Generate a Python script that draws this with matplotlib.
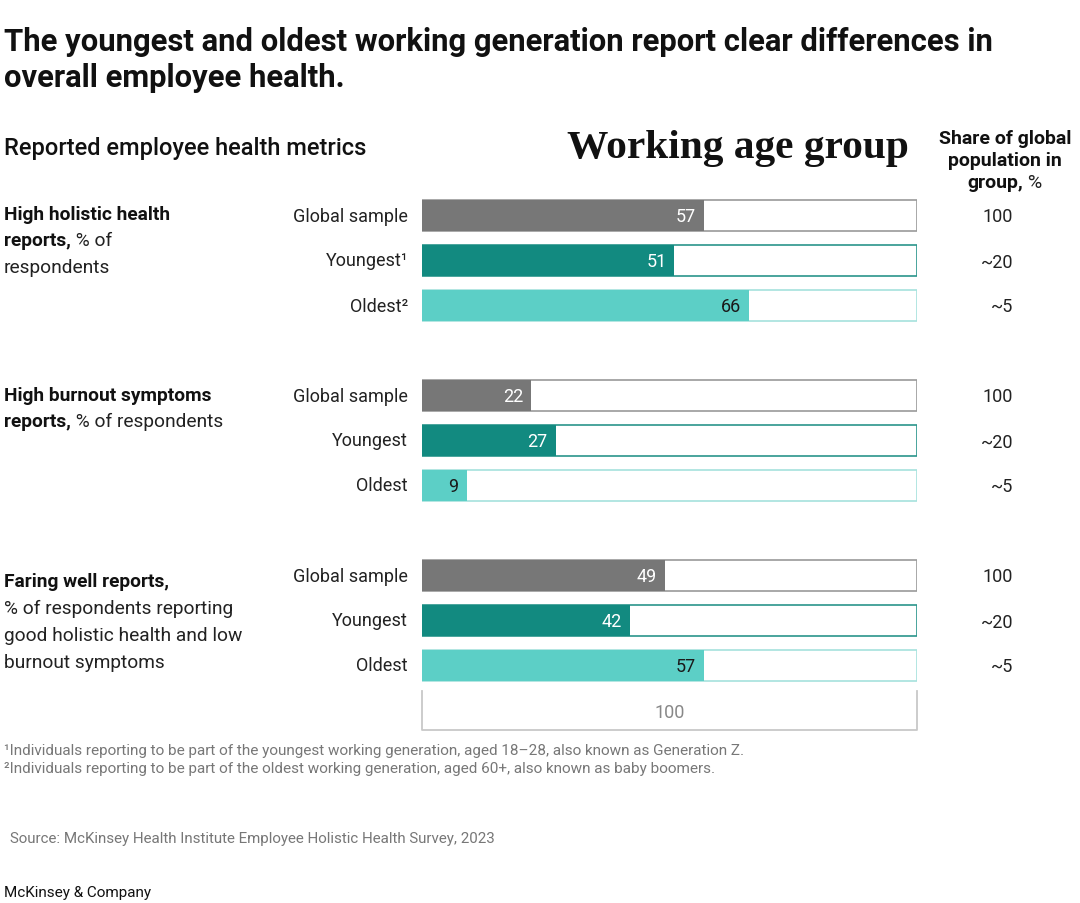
import matplotlib.pyplot as plt

plt.rcParams['font.family'] = ['Roboto', 'DejaVu Sans']

# data
metrics = ['High holistic health', 'High burnout symptoms', 'Faring well']
groups = ['Global sample', 'Youngest\u00b9', 'Oldest\u00b2']
holistic = [57, 51, 66]
burnout = [22, 27, 9]
faring = [49, 42, 57]
share_labels = ['100', '~20', '~5']

group_names = [groups, ['Global sample', 'Youngest', 'Oldest'], ['Global sample', 'Youngest', 'Oldest']]
values = [holistic, burnout, faring]

fill_cols = ['#777777', '#128a80', '#5ccfc6']
edge_cols = ['#9a9a9a', '#2a958b', '#a6e2dd']
txt_cols = ['white', 'white', '#1a1a1a']

W, H = 1080, 904
fig = plt.figure(figsize=(W / 100, H / 100), dpi=100)

def fx(px):
    return px / W

def fy(py):
    return 1 - py / H

# bar axes, x in percent, y in row index (45 px per row)
base = 216.5
y0, y1 = -0.5, 11.6
top_px = base - 0.5 * 45
bot_px = base + 11.6 * 45
ax = fig.add_axes([fx(422), fy(bot_px), fx(917) - fx(422), (bot_px - top_px) / H])
ax.set_xlim(0, 100)
ax.set_ylim(y1, y0)
ax.axis('off')

bh = 0.71
for g in range(3):
    for i in range(3):
        yy = g * 4 + i
        v = values[g][i]
        ax.barh(yy, 100, height=bh, color='white', edgecolor=edge_cols[i], linewidth=1.2, zorder=1)
        ax.barh(yy, v, height=bh, color=fill_cols[i], edgecolor='none', zorder=2)
        ax.text(v - 1.6, yy + 0.02, str(v), ha='right', va='center', fontsize=13,
                color=txt_cols[i], zorder=3)
        fig.text(fx(408), fy(base + yy * 45), group_names[g][i], ha='right', va='center',
                 fontsize=13, color='#222222')
        fig.text(fx(1013), fy(base + yy * 45 + 1), share_labels[i], ha='right', va='center',
                 fontsize=13, color='#222222')

# scale bracket
ax.plot([0, 0, 100, 100], [10.56, 11.44, 11.44, 10.56], color='#c8c8c8', lw=1.3, clip_on=False)
ax.text(50, 11.03, '100', ha='center', va='center', fontsize=13, color='#888888')

# titles
fig.text(fx(4), fy(42), 'The youngest and oldest working generation report clear differences in',
         ha='left', va='center', fontsize=22.3, fontweight='bold', color='#111111')
fig.text(fx(4), fy(78), 'overall employee health.',
         ha='left', va='center', fontsize=22.3, fontweight='bold', color='#111111')
fig.text(fx(4), fy(149), 'Reported employee health metrics', ha='left', va='center',
         fontsize=17, fontweight='medium', color='#111111')
fig.text(fx(738), fy(149), 'Working age group', ha='center', va='center',
         fontsize=29.8, fontweight='bold', family='Liberation Serif', color='#111111')

for txt, py in [('Share of global', 139), ('population in', 161)]:
    fig.text(fx(1005), fy(py), txt, ha='center', va='center', fontsize=14,
             fontweight='bold', color='#111111')

fig.canvas.draw()
rend = fig.canvas.get_renderer()


def mixed(x, py, bold, rest, ha='left', size=14):
    t1 = fig.text(fx(x), fy(py), bold, ha='left', va='center', fontsize=size,
                  fontweight='bold', color='#111111')
    w1 = t1.get_window_extent(rend).width
    t2 = fig.text(fx(x + w1), fy(py), rest, ha='left', va='center', fontsize=size,
                  color='#222222')
    if ha == 'center':
        w2 = t2.get_window_extent(rend).width
        shift = (w1 + w2) / 2
        t1.set_x(fx(x - shift))
        t2.set_x(fx(x - shift + w1))


mixed(1005, 183, 'group,', ' %', ha='center')

lab_kw = dict(ha='left', va='center', fontsize=13.8)
fig.text(fx(4), fy(215), 'High holistic health', fontweight='bold', color='#111111', **lab_kw)
mixed(4, 241, 'reports,', ' % of', size=13.8)
fig.text(fx(4), fy(268), 'respondents', color='#222222', **lab_kw)

fig.text(fx(4), fy(396), 'High burnout symptoms', fontweight='bold', color='#111111', **lab_kw)
mixed(4, 422, 'reports,', ' % of respondents', size=13.8)

fig.text(fx(4), fy(582), 'Faring well reports,', fontweight='bold', color='#111111', **lab_kw)
fig.text(fx(4), fy(609), '% of respondents reporting', color='#222222', **lab_kw)
fig.text(fx(4), fy(636), 'good holistic health and low', color='#222222', **lab_kw)
fig.text(fx(4), fy(663), 'burnout symptoms', color='#222222', **lab_kw)

# footnotes
fig.text(fx(4), fy(751), '\u00b9Individuals reporting to be part of the youngest working generation, aged 18\u201328, also known as Generation Z.',
         ha='left', va='center', fontsize=11, color='#777777')
fig.text(fx(4), fy(769), '\u00b2Individuals reporting to be part of the oldest working generation, aged 60+, also known as baby boomers.',
         ha='left', va='center', fontsize=11, color='#777777')
fig.text(fx(10), fy(839), 'Source: McKinsey Health Institute Employee Holistic Health Survey, 2023',
         ha='left', va='center', fontsize=10.9, color='#777777')
fig.text(fx(4), fy(893), 'McKinsey & Company', ha='left', va='center', fontsize=11, color='#111111')

fig.savefig('out.png', dpi=100)
